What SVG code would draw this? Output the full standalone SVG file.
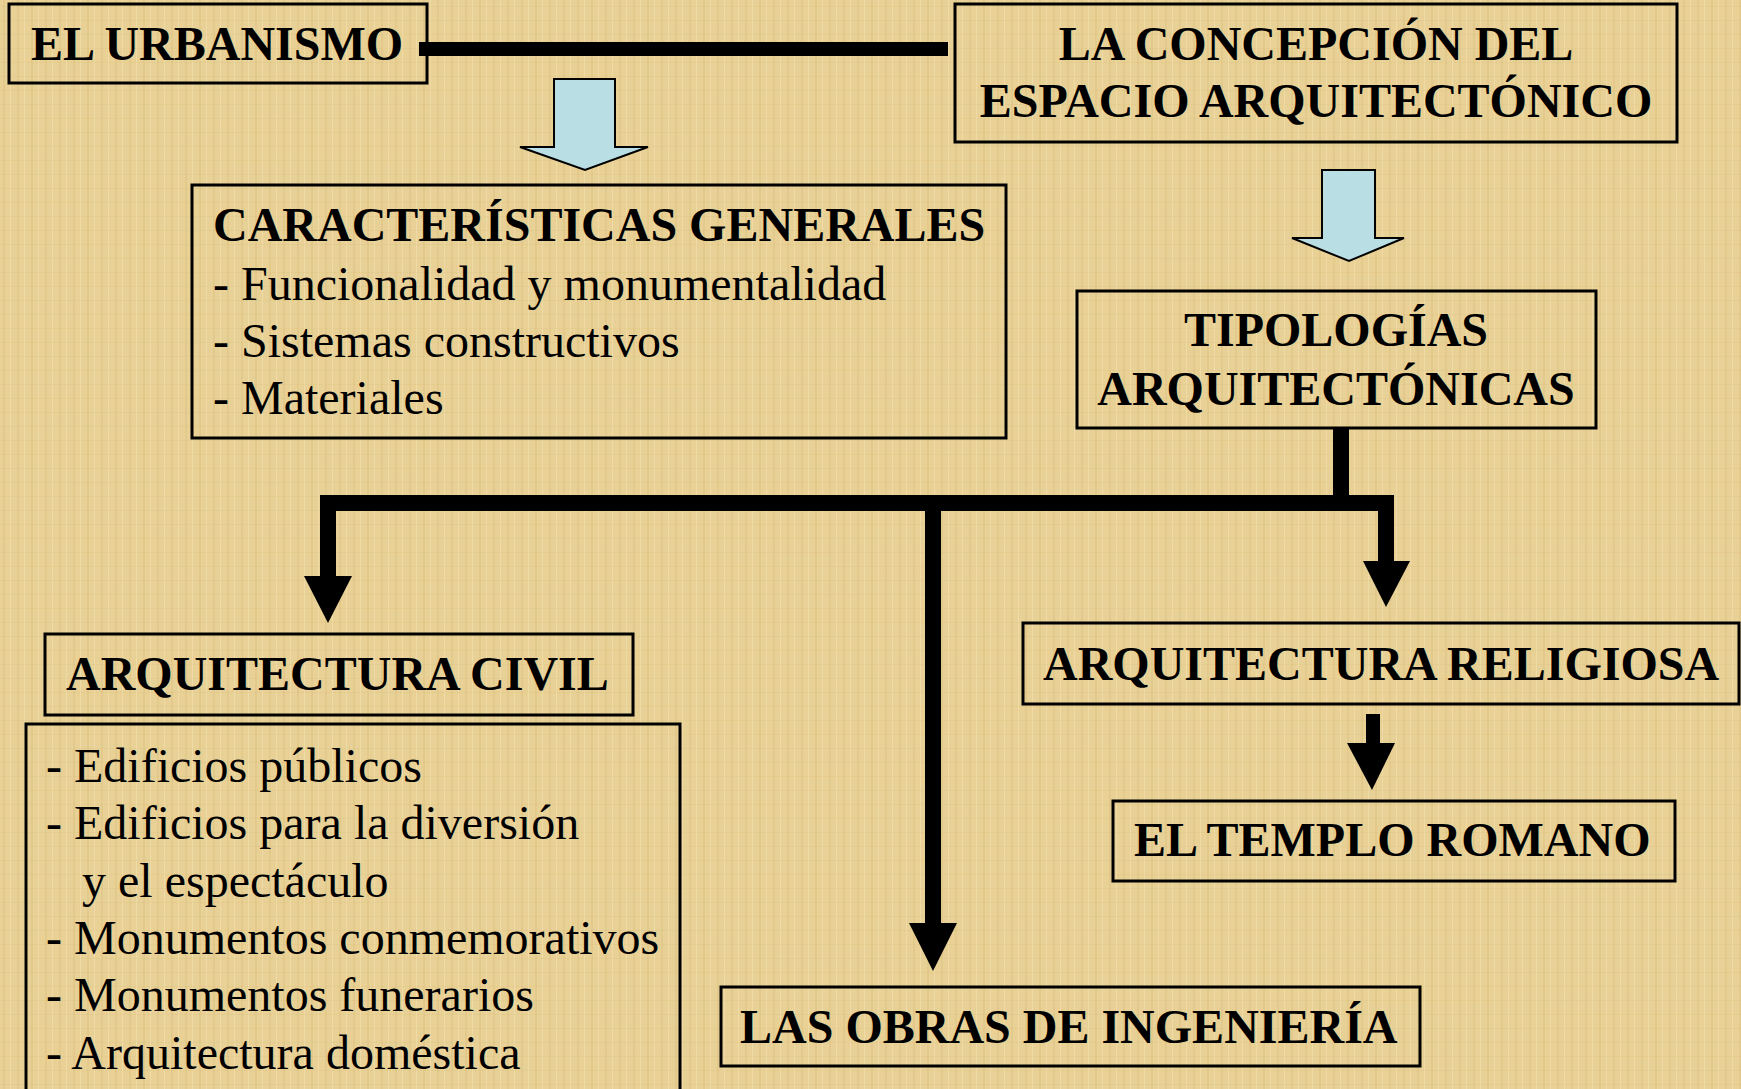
<svg xmlns="http://www.w3.org/2000/svg" width="1741" height="1089" viewBox="0 0 1741 1089">
<defs>
<style>
.box{fill:none;stroke:#000;stroke-width:3}
.t{font-family:"Liberation Serif","Times New Roman",serif;font-size:48px;fill:#000}
.b{font-weight:bold}
.blue{fill:#B9DFE4;stroke:#000;stroke-width:2;stroke-linejoin:miter}
.k{fill:#000}
.ln{stroke:#000;stroke-width:16;fill:none}
</style>
<pattern id="weave" width="14" height="14" patternUnits="userSpaceOnUse">
<rect width="14" height="14" fill="none"/>
<rect x="3" y="0" width="2" height="14" fill="#C9A85E" opacity="0.18"/>
<rect x="10" y="0" width="1" height="14" fill="#FFF3CF" opacity="0.3"/>
<rect x="0" y="6" width="14" height="1" fill="#C9A85E" opacity="0.12"/>
</pattern>
<filter id="grain" x="0" y="0" width="100%" height="100%">
<feTurbulence type="fractalNoise" baseFrequency="0.004 0.05" numOctaves="3" seed="4" result="n"/>
<feColorMatrix in="n" type="matrix" values="0 0 0 0 0.78  0 0 0 0 0.62  0 0 0 0 0.30  0 0 0 0.45 -0.1"/>
</filter>
</defs>
<rect width="1741" height="1089" fill="#E9D196"/>
<rect width="1741" height="1089" filter="url(#grain)"/>
<rect width="1741" height="1089" fill="url(#weave)"/>

<g id="connectors">
<rect x="419" y="42" width="529" height="14" class="k"/>
<polygon class="blue" points="554,79 615,79 615,147 648,147 585,170 520,147 554,147"/>
<polygon class="blue" points="1322,170 1375,170 1375,238 1404,238 1349,261 1292,238 1322,238"/>
<path class="ln" d="M1341,428 V503 M320,503 H1394 M328,503 V578 M933,503 V925 M1386,503 V563"/>
<polygon class="k" points="304,576 352,576 328,623"/>
<polygon class="k" points="909,923 957,923 933,971"/>
<polygon class="k" points="1363,561 1410,561 1386,607"/>
<rect x="1366" y="714" width="14" height="31" class="k"/>
<polygon class="k" points="1347,743 1395,743 1372,790"/>
</g>

<g id="urbanismo">
<rect class="box" x="9" y="4" width="418" height="79"/>
<text class="t b" x="31" y="60">EL URBANISMO</text>
</g>

<g id="concepcion">
<rect class="box" x="955" y="4" width="722" height="138"/>
<text class="t b" x="1316" y="60" text-anchor="middle">LA CONCEPCIÓN DEL</text>
<text class="t b" x="1316" y="117" text-anchor="middle">ESPACIO ARQUITECTÓNICO</text>
</g>

<g id="caracteristicas">
<rect class="box" x="192" y="185" width="814" height="253"/>
<text class="t b" x="213" y="241">CARACTERÍSTICAS GENERALES</text>
<text class="t" x="213" y="300">- Funcionalidad y monumentalidad</text>
<text class="t" x="213" y="357">- Sistemas constructivos</text>
<text class="t" x="213" y="414">- Materiales</text>
</g>

<g id="tipologias">
<rect class="box" x="1077" y="291" width="519" height="137"/>
<text class="t b" x="1336" y="346" text-anchor="middle">TIPOLOGÍAS</text>
<text class="t b" x="1336" y="405" text-anchor="middle">ARQUITECTÓNICAS</text>
</g>

<g id="civil">
<rect class="box" x="45" y="634" width="588" height="81"/>
<text class="t b" x="66" y="690">ARQUITECTURA CIVIL</text>
</g>

<g id="civil-list">
<rect class="box" x="26" y="724" width="654" height="380"/>
<text class="t" x="46" y="782">- Edificios públicos</text>
<text class="t" x="46" y="839">- Edificios para la diversión</text>
<text class="t" x="82" y="897">y el espectáculo</text>
<text class="t" x="46" y="954">- Monumentos conmemorativos</text>
<text class="t" x="46" y="1011">- Monumentos funerarios</text>
<text class="t" x="46" y="1069">- Arquitectura doméstica</text>
</g>

<g id="religiosa">
<rect class="box" x="1023" y="623" width="716" height="81"/>
<text class="t b" x="1043" y="680">ARQUITECTURA RELIGIOSA</text>
</g>

<g id="templo">
<rect class="box" x="1113" y="801" width="562" height="80"/>
<text class="t b" x="1134" y="856">EL TEMPLO ROMANO</text>
</g>

<g id="ingenieria">
<rect class="box" x="721" y="987" width="699" height="79"/>
<text class="t b" x="740" y="1043">LAS OBRAS DE INGENIERÍA</text>
</g>
</svg>
